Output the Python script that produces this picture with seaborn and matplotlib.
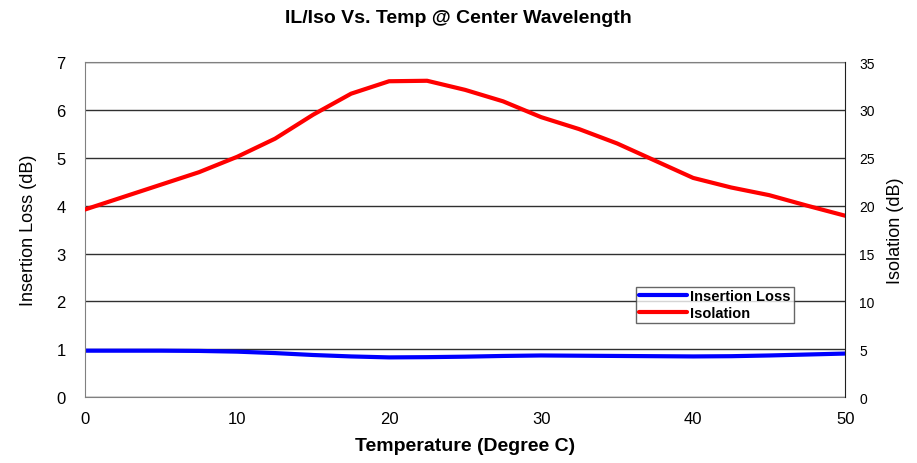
import pandas as pd
import seaborn as sns
import matplotlib.pyplot as plt

# Data
temp = [0, 2.5, 5, 7.5, 10, 12.5, 15, 17.5, 20, 22.5, 25, 27.5, 30, 32.5, 35, 37.5, 40, 42.5, 45, 47.5, 50]
insertion_loss = [0.97, 0.97, 0.97, 0.965, 0.95, 0.92, 0.88, 0.85, 0.83, 0.835, 0.845, 0.86, 0.87,
                  0.865, 0.86, 0.855, 0.85, 0.855, 0.87, 0.89, 0.91]
isolation = [19.6, 20.9, 22.2, 23.5, 25.1, 27.0, 29.5, 31.7, 33.0, 33.05, 32.1, 30.9, 29.25,
             28.0, 26.5, 24.7, 22.9, 21.9, 21.1, 20.0, 18.95]

df = pd.DataFrame({"Temp": temp, "IL": insertion_loss, "Iso": isolation})

sns.set_style("white")
plt.rcParams["font.family"] = ["Liberation Sans", "DejaVu Sans"]
plt.rcParams["text.color"] = "black"
plt.rcParams["axes.labelcolor"] = "black"
plt.rcParams["xtick.labelcolor"] = "black"
plt.rcParams["ytick.labelcolor"] = "black"

fig = plt.figure(figsize=(9.17, 4.64), dpi=100)
ax = fig.add_axes([0.0927, 0.142, 0.829, 0.722])
ax2 = ax.twinx()

# ==================================================
# Lines
# ==================================================

sns.lineplot(data=df, x="Temp", y="IL", ax=ax, color="#0000ff", linewidth=3, label="Insertion Loss", legend=False)
sns.lineplot(data=df, x="Temp", y="Iso", ax=ax2, color="#ff0000", linewidth=3, label="Isolation", legend=False)

ax.set_xlim(0, 50)
ax.set_ylim(0, 7)
ax2.set_ylim(0, 35)
ax.set_xticks(range(0, 51, 10))
ax.set_yticks(range(0, 8))
ax2.set_yticks(range(0, 36, 5))

ax.grid(axis="y", color="#303030", linewidth=1)
ax.set_axisbelow(True)
ax.tick_params(axis="x", direction="in", length=5, color="#606060", labelsize=12, pad=10)
ax.tick_params(axis="y", length=0, labelsize=12, pad=14)
ax2.tick_params(axis="y", length=0, labelsize=10, pad=10)

for side in ["left", "top", "bottom"]:
    ax.spines[side].set_color("#808080")
    ax2.spines[side].set_visible(False)
ax.spines["right"].set_visible(False)
ax2.spines["right"].set_color("#202020")

ax.set_xlabel("Temperature (Degree C)", fontsize=14, fontweight="bold", labelpad=8)
ax.set_ylabel("Insertion Loss (dB)", fontsize=13, labelpad=14)
ax2.set_ylabel("Isolation (dB)", fontsize=13, labelpad=9)
fig.suptitle("IL/Iso Vs. Temp @ Center Wavelength", fontsize=14, fontweight="bold", y=0.978)

h1, l1 = ax.get_legend_handles_labels()
h2, l2 = ax2.get_legend_handles_labels()
leg = ax2.legend(h1 + h2, l1 + l2, loc="upper left", bbox_to_anchor=(0.725, 0.33),
                 prop={"weight": "bold", "size": 10.5}, frameon=True, fancybox=False,
                 edgecolor="#404040", handlelength=3.3, handletextpad=0.2,
                 borderpad=0.2, labelspacing=0.2, borderaxespad=0)
leg.get_frame().set_linewidth(1)

fig.savefig("out.png", dpi=100)
